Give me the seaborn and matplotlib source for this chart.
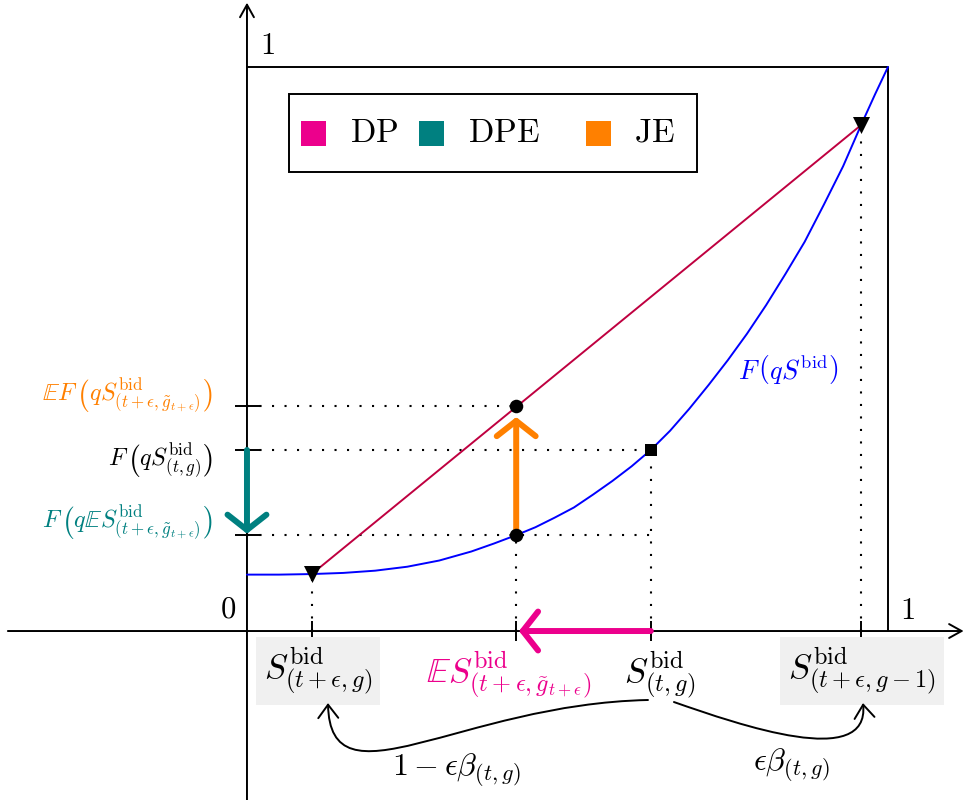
import matplotlib
matplotlib.use("Agg")
import matplotlib.pyplot as plt
from matplotlib.patches import FancyArrowPatch, Rectangle, ArrowStyle
from matplotlib.path import Path
import seaborn as sns
import pandas as pd

sns.set_style("white")
plt.rcParams["mathtext.fontset"] = "cm"
plt.rcParams["font.family"] = ["DejaVu Serif"]
plt.rcParams["text.color"] = "black"

# Distribution curve F(q S^bid)
curve_x = [0.0, 0.05, 0.101, 0.15, 0.20, 0.25, 0.30, 0.35, 0.385, 0.42, 0.45, 0.48,
           0.51, 0.54, 0.57, 0.60, 0.63, 0.66, 0.69, 0.72, 0.75, 0.78, 0.81, 0.84,
           0.87, 0.90, 0.93, 0.958, 0.98, 1.0]
curve_y = [0.100, 0.100, 0.101, 0.103, 0.107, 0.114, 0.125, 0.141, 0.155, 0.170, 0.184, 0.201,
           0.219, 0.242, 0.266, 0.292, 0.321, 0.355, 0.394, 0.436, 0.480, 0.527, 0.578, 0.633,
           0.690, 0.756, 0.824, 0.897, 0.952, 1.0]

# Bid levels on the horizontal axis
S_low = 0.101      # S_(t+eps, g)
S_exp = 0.42       # E S_(t+eps, g~)
S_now = 0.63       # S_(t, g)
S_high = 0.958     # S_(t+eps, g-1)

# Values of F at those levels
F_low = 0.101
F_high = 0.897
F_now = 0.321
F_exp = 0.170      # F(q E S)
EF = 0.399         # E F(q S) on the chord

C_DP = "#EC008C"
C_DPE = "#008080"
C_JE = "#FF8000"
C_CHORD = "#BF0040"
C_CURVE = "#0000FF"
C_BOX = "#F0F0F0"

legend_labels = ["DP", "DPE", "JE"]
legend_colors = [C_DP, C_DPE, C_JE]

fig = plt.figure(figsize=(9.64, 8.0), dpi=100)
ax = fig.add_axes([0, 0, 1, 1])

# Coordinate axes with arrow tips
axis_style = ArrowStyle("->", head_length=0.9, head_width=0.5)
ax.add_patch(FancyArrowPatch((-0.373, 0), (1.118, 0), arrowstyle=axis_style,
                             mutation_scale=10, lw=1.4, color="black", zorder=2,
                             shrinkA=0, shrinkB=0))
ax.add_patch(FancyArrowPatch((0, -0.2996), (0, 1.114), arrowstyle=axis_style,
                             mutation_scale=10, lw=1.4, color="black", zorder=2,
                             shrinkA=0, shrinkB=0))

# Unit square borders
ax.plot([0, 1, 1], [1, 1, 0], color="black", lw=1.4, zorder=2)

# Dotted guides
dot = dict(color="black", lw=1.5, ls=(0, (1, 5)), zorder=1)
ax.plot([0, S_exp], [EF, EF], **dot)
ax.plot([0, S_now], [F_now, F_now], **dot)
ax.plot([0, S_now], [F_exp, F_exp], **dot)
ax.plot([S_low, S_low], [0, F_low], **dot)
ax.plot([S_exp, S_exp], [0, F_exp], **dot)
ax.plot([S_now, S_now], [0, F_now], **dot)
ax.plot([S_high, S_high], [0, F_high], **dot)

# Tick marks
ax.plot([S_low, S_exp, S_now, S_high], [0, 0, 0, 0], ls="none", marker="|",
        ms=15, mew=1.4, color="black", zorder=2)
ax.plot([0, 0, 0], [EF, F_now, F_exp], ls="none", marker="_",
        ms=18, mew=1.4, color="black", zorder=2)

# Curve and chord
curve = pd.DataFrame({"x": curve_x, "y": curve_y})
sns.lineplot(data=curve, x="x", y="y", color=C_CURVE, lw=1.4, estimator=None,
             ax=ax, zorder=3)
chord = pd.DataFrame({"x": [S_low, S_high], "y": [F_low, F_high]})
sns.lineplot(data=chord, x="x", y="y", color=C_CHORD, lw=1.4, estimator=None,
             ax=ax, zorder=3)

# Thick effect arrows
def thick_arrow(start, end, color, shrink_end):
    style = ArrowStyle("->", head_length=0.55, head_width=0.7)
    ax.add_patch(FancyArrowPatch(start, end, arrowstyle=style, mutation_scale=20,
                                 lw=4.3, color=color, capstyle="round",
                                 joinstyle="round", shrinkA=0, shrinkB=shrink_end,
                                 zorder=4))

thick_arrow((S_exp, F_exp), (S_exp, EF), C_JE, 8)
thick_arrow((0, F_now), (0, F_exp), C_DPE, 1)
thick_arrow((S_now, 0), (S_exp, 0), C_DP, 2)

# Markers
tri = pd.DataFrame({"x": [S_low, S_high], "y": [F_low, F_high]})
sns.scatterplot(data=tri, x="x", y="y", marker="v", s=150, color="black",
                edgecolor="black", linewidth=0, ax=ax, zorder=5)
dots = pd.DataFrame({"x": [S_exp, S_exp], "y": [F_exp, EF]})
sns.scatterplot(data=dots, x="x", y="y", marker="o", s=95, color="black",
                edgecolor="black", linewidth=0, ax=ax, zorder=5)
sq = pd.DataFrame({"x": [S_now], "y": [F_now]})
sns.scatterplot(data=sq, x="x", y="y", marker="s", s=85, color="black",
                edgecolor="black", linewidth=0, ax=ax, zorder=5)

ax.set_xlim(-0.3853, 1.1186)
ax.set_ylim(-0.2996, 1.1188)
ax.axis("off")

# Axis numbers
ax.text(-0.0296, 0.039, r"$0$", fontsize=22, ha="center", va="center")
ax.text(1.031, 0.037, r"$1$", fontsize=22, ha="center", va="center")
ax.text(0.0312, 1.039, r"$1$", fontsize=22, ha="center", va="center")

# Vertical-axis labels
ax.text(-0.053, 0.4167,
        r"$\mathbb{E}F\,\left(qS^{\mathrm{bid}}_{(t+\epsilon,\tilde{g}_{t+\epsilon})}\right)$",
        fontsize=17.5, color=C_JE, ha="right", va="center")
ax.text(-0.053, 0.3014, r"$F\,\left(qS^{\mathrm{bid}}_{(t,g)}\right)$",
        fontsize=17.5, color="black", ha="right", va="center")
ax.text(-0.053, 0.1915,
        r"$F\,\left(q\mathbb{E}S^{\mathrm{bid}}_{(t+\epsilon,\tilde{g}_{t+\epsilon})}\right)$",
        fontsize=17.5, color=C_DPE, ha="right", va="center")
ax.text(0.844, 0.4645, r"$F\,\left(qS^{\mathrm{bid}}\right)$", fontsize=19,
        color=C_CURVE, ha="center", va="center")

# Horizontal-axis labels
box = dict(boxstyle="square,pad=0.22", fc=C_BOX, ec="none")
ax.text(0.1108, -0.0709, r"$S^{\mathrm{bid}}_{(t+\epsilon,g)}$", fontsize=25,
        ha="center", va="center", bbox=box)
ax.text(0.4087, -0.0780, r"$\mathbb{E}S^{\mathrm{bid}}_{(t+\epsilon,\tilde{g}_{t+\epsilon})}$",
        fontsize=25, color=C_DP, ha="center", va="center")
ax.text(0.6443, -0.0780, r"$S^{\mathrm{bid}}_{(t,g)}$", fontsize=25,
        ha="center", va="center")
ax.text(0.9594, -0.0709, r"$S^{\mathrm{bid}}_{(t+\epsilon,g-1)}$", fontsize=25,
        ha="center", va="center", bbox=box)

# Transition arrows with probabilities
trans_style = ArrowStyle("->", head_length=0.8, head_width=0.6)
left_path = Path([(0.6256, -0.1223), (0.3323, -0.1294), (0.1295, -0.3174), (0.1264, -0.1277)],
                 [Path.MOVETO, Path.CURVE4, Path.CURVE4, Path.CURVE4])
right_path = Path([(0.6661, -0.1259), (0.7691, -0.1667), (0.9719, -0.2465), (0.9610, -0.1277)],
                  [Path.MOVETO, Path.CURVE4, Path.CURVE4, Path.CURVE4])
for p in (left_path, right_path):
    ax.add_patch(FancyArrowPatch(path=p, arrowstyle=trans_style, mutation_scale=12,
                                 lw=1.4, color="black", zorder=3))
ax.text(0.3276, -0.2465, r"$1-\epsilon\beta_{(t,g)}$", fontsize=23,
        ha="center", va="center")
ax.text(0.8502, -0.2376, r"$\epsilon\beta_{(t,g)}$", fontsize=23,
        ha="center", va="center")

# Legend box
ax.add_patch(Rectangle((0.0655, 0.814), 0.6365, 0.138, fc="white", ec="black",
                       lw=1.4, zorder=6))
sw_x = [0.0842, 0.268, 0.529]
txt_x = [0.161, 0.345, 0.604]
for lab, col, sx, tx in zip(legend_labels, legend_colors, sw_x, txt_x):
    ax.add_patch(Rectangle((sx, 0.860), 0.039, 0.044, fc=col, ec="none", zorder=7))
    ax.text(tx, 0.883, r"$\mathrm{" + lab + "}$", fontsize=24, ha="left",
            va="center", zorder=7)

fig.savefig("out.png", dpi=100)
